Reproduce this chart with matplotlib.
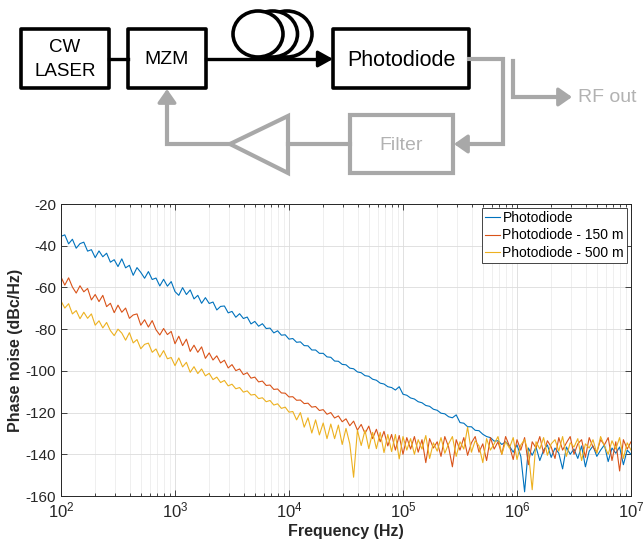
import numpy as np
import matplotlib
matplotlib.use("Agg")
import matplotlib.pyplot as plt
from matplotlib.patches import Rectangle, Ellipse, Polygon

plt.rcParams['font.family'] = ['Liberation Sans', 'DejaVu Sans']
plt.rcParams['axes.unicode_minus'] = False

# phase noise traces (30 points per decade, 1e2 .. 1e7 Hz)
photodiode = [
    -35.5, -34.8, -39.1, -36.9, -41.2, -39.0, -38.3, -42.6, -41.9, -45.7,
    -42.5, -45.3, -43.6, -47.9, -46.7, -50.0, -46.3, -50.6, -49.4, -54.2,
    -50.5, -52.8, -55.6, -52.4, -56.2, -55.5, -59.3, -56.1, -59.4, -57.2,
    -62.0, -63.8, -60.1, -63.4, -61.2, -65.5, -63.8, -67.6, -64.9, -67.7,
    -67.0, -70.8, -69.1, -68.9, -72.2, -71.5, -74.3, -72.6, -74.9, -74.2,
    -77.5, -76.3, -78.6, -77.4, -79.7, -79.5, -81.8, -80.8, -82.9, -82.7,
    -84.8, -84.5, -86.3, -86.1, -87.9, -88.0, -90.0, -90.0, -91.6, -91.6,
    -93.3, -93.5, -95.3, -95.4, -96.9, -97.1, -98.7, -99.0, -100.5, -100.9,
    -102.3, -102.6, -104.0, -104.5, -105.9, -106.3, -107.6, -108.0, -109.2, -107.6,
    -111.2, -111.7, -113.0, -113.5, -114.8, -115.3, -116.6, -117.0, -118.4, -118.9,
    -120.3, -120.6, -122.0, -122.5, -121.1, -124.8, -125.1, -126.8, -126.8, -128.5,
    -128.7, -130.4, -131.5, -132.0, -133.7, -133.5, -135.3, -134.0, -136.0, -139.0,
    -135.5, -141.0, -158.0, -137.0, -140.5, -136.5, -143.0, -138.0, -135.5, -141.5,
    -137.0, -139.5, -147.0, -136.5, -140.0, -137.5, -142.0, -136.0, -146.0, -138.5,
    -136.0, -141.0, -138.0, -135.5, -143.5, -137.0, -139.5, -136.5, -145.0, -138.0,
    -140.0]

pd_150m = [
    -55.0, -58.9, -55.4, -59.8, -62.7, -59.2, -62.1, -60.5, -66.0, -63.4,
    -66.8, -63.8, -69.2, -67.6, -72.1, -68.5, -71.9, -69.9, -74.8, -73.2,
    -72.7, -78.1, -75.5, -79.0, -75.9, -80.3, -82.8, -79.7, -82.6, -81.1,
    -87.0, -83.4, -87.9, -84.8, -90.7, -87.7, -91.1, -88.5, -94.0, -91.4,
    -94.8, -92.8, -96.2, -94.9, -98.6, -97.0, -99.9, -99.1, -101.8, -100.9,
    -103.5, -103.0, -105.3, -104.9, -107.0, -106.8, -108.9, -108.7, -110.6, -110.7,
    -112.5, -112.4, -114.1, -114.0, -115.7, -115.5, -117.4, -117.1, -119.0, -118.6,
    -120.8, -120.0, -122.6, -121.6, -124.4, -123.0, -126.3, -124.1, -128.4, -125.7,
    -130.0, -126.5, -132.5, -128.0, -134.0, -129.0, -136.0, -130.5, -138.0, -131.0,
    -140.0, -132.0, -137.5, -131.5, -139.0, -133.0, -144.0, -132.5, -137.0, -134.0,
    -141.0, -131.5, -136.5, -146.0, -133.0, -138.0, -132.0, -140.5, -134.5, -131.5,
    -139.0, -135.0, -143.0, -132.0, -137.5, -134.0, -140.0, -131.5, -136.0, -142.5,
    -133.0, -138.0, -132.0, -145.0, -134.0, -137.0, -131.5, -139.5, -133.5, -136.5,
    -142.0, -132.0, -138.0, -134.5, -131.5, -140.0, -135.0, -133.0, -141.5, -132.0,
    -136.5, -139.0, -133.0, -135.5, -132.0, -143.0, -134.0, -148.0, -133.0, -137.5,
    -134.0]

pd_500m = [
    -66.5, -69.9, -67.8, -72.7, -71.1, -75.0, -71.9, -74.8, -72.7, -78.1,
    -76.0, -79.4, -76.8, -80.7, -83.1, -80.0, -81.9, -85.3, -81.7, -86.6,
    -85.0, -89.4, -87.3, -86.7, -91.1, -89.5, -93.4, -90.3, -94.2, -93.6,
    -97.5, -93.8, -98.1, -95.9, -100.7, -98.0, -101.3, -99.1, -102.4, -101.2,
    -104.2, -103.0, -105.6, -104.6, -107.2, -106.4, -108.6, -108.0, -110.2, -109.6,
    -111.6, -111.3, -113.3, -112.9, -114.8, -114.2, -116.4, -115.8, -118.0, -117.4,
    -119.8, -119.5, -123.5, -120.0, -127.0, -122.5, -129.8, -123.5, -130.7, -125.0,
    -132.5, -125.5, -132.5, -126.0, -135.3, -127.6, -135.0, -151.0, -128.5, -135.8,
    -128.5, -137.3, -129.5, -137.3, -129.5, -139.2, -130.5, -138.7, -130.5, -142.2,
    -131.5, -138.0, -132.5, -140.0, -133.0, -137.5, -131.0, -142.0, -134.5, -138.5,
    -132.0, -139.5, -135.0, -131.5, -141.0, -134.0, -137.5, -127.0, -139.0, -133.5,
    -136.0, -144.0, -132.5, -138.0, -135.0, -131.5, -140.0, -134.0, -137.0, -132.0,
    -142.5, -135.5, -133.0, -139.0, -157.0, -134.0, -137.5, -132.0, -140.5, -135.0,
    -133.0, -138.5, -131.5, -141.0, -134.5, -136.5, -132.5, -143.0, -135.0, -137.0,
    -133.0, -139.5, -131.5, -136.0, -140.0, -133.5, -137.5, -132.0, -142.0, -134.5,
    -138.0]

freq = np.logspace(2, 7, len(photodiode))

labels = ['Photodiode', 'Photodiode - 150 m', 'Photodiode - 500 m']
colors = ['#0072BD', '#D95319', '#EDB120']
y_ticks = [-160, -140, -120, -100, -80, -60, -40, -20]

W, H = 643, 545
fig = plt.figure(figsize=(W / 100, H / 100), dpi=100)

# ---- block diagram (pixel coordinates) ----
d = fig.add_axes([0, 0, 1, 1])
d.set_xlim(0, W)
d.set_ylim(H, 0)
d.axis('off')

blk = 'black'
gry = '#a8a8a8'
txt_gry = '#b2b2b2'

for (x0, y0, x1, y1) in [(21, 29, 109, 88), (128, 29, 206, 88), (333, 29, 469, 88)]:
    d.add_patch(Rectangle((x0, y0), x1 - x0, y1 - y0, fill=False, ec=blk, lw=2.6,
                          joinstyle='round'))
d.text(65, 47, 'CW', ha='center', va='center', fontsize=13.5)
d.text(65, 72, 'LASER', ha='center', va='center', fontsize=13.5)
d.text(167, 60, 'MZM', ha='center', va='center', fontsize=14)
d.text(401, 60, 'Photodiode', ha='center', va='center', fontsize=15.5)

d.plot([109, 128], [59, 59], color=blk, lw=2.4)
d.plot([206, 322], [59, 59], color=blk, lw=2.4)
d.annotate('', xy=(333, 59), xytext=(318, 59),
           arrowprops=dict(arrowstyle='-|>,head_length=0.45,head_width=0.25',
                           color=blk, lw=2.2, mutation_scale=20, shrinkA=0, shrinkB=0))

# fibre coil
for cx in [287, 272.5, 258]:
    d.add_patch(Ellipse((cx, 34), 50, 46, fc='white', ec=blk, lw=2.6, zorder=3))

# feedback path
d.plot([469, 503, 503, 465], [59, 59, 144, 144], color=gry, lw=3, solid_joinstyle='miter')
d.annotate('', xy=(454, 144), xytext=(470, 144),
           arrowprops=dict(arrowstyle='-|>,head_length=0.4,head_width=0.28',
                           color=gry, lw=2.5, mutation_scale=20, shrinkA=0, shrinkB=0))
d.plot([513, 513, 560], [61, 97, 97], color=gry, lw=3, solid_joinstyle='miter')
d.annotate('', xy=(572, 97), xytext=(556, 97),
           arrowprops=dict(arrowstyle='-|>,head_length=0.4,head_width=0.28',
                           color=gry, lw=2.5, mutation_scale=20, shrinkA=0, shrinkB=0))
d.text(578, 98, 'RF out', ha='left', va='center', fontsize=14, color=txt_gry)

d.add_patch(Rectangle((350, 115), 103, 58, fill=False, ec=gry, lw=3))
d.text(401, 146, 'Filter', ha='center', va='center', fontsize=14, color=txt_gry)
d.plot([350, 288], [144, 144], color=gry, lw=3)
d.add_patch(Polygon([(230, 144), (288, 116), (288, 173)], closed=True, fill=False,
                    ec=gry, lw=3, joinstyle='miter'))
d.plot([230, 167, 167], [144, 144, 100], color=gry, lw=3, solid_joinstyle='miter')
d.annotate('', xy=(167, 89), xytext=(167, 104),
           arrowprops=dict(arrowstyle='-|>,head_length=0.4,head_width=0.28',
                           color=gry, lw=2.5, mutation_scale=20, shrinkA=0, shrinkB=0))

# ---- phase noise plot ----
ax = fig.add_axes([61 / W, 1 - 496 / H, 570 / W, 292 / H])
for vals, lab, c in zip([photodiode, pd_150m, pd_500m], labels, colors):
    ax.plot(freq, vals, color=c, lw=0.8, label=lab)

ax.set_xscale('log')
ax.set_xlim(1e2, 1e7)
ax.set_ylim(-160, -20)
ax.set_yticks(y_ticks)
ax.grid(True, which='major', color='#dcdcdc', lw=0.6)
ax.grid(True, which='minor', color='#ececec', lw=0.6)
ax.set_axisbelow(True)
ax.tick_params(which='both', direction='in', top=True, right=True, colors='#262626',
               labelsize=11, width=0.6)
ax.tick_params(axis='x', labelsize=12)
ax.tick_params(which='major', length=4)
ax.tick_params(which='minor', length=2.5)
for s in ax.spines.values():
    s.set_color('#262626')
    s.set_linewidth(0.7)
ax.set_xlabel('Frequency (Hz)', fontsize=11.5, fontweight='bold', color='#262626', labelpad=2)
ax.set_ylabel('Phase noise (dBc/Hz)', fontsize=11.5, fontweight='bold', color='#262626', labelpad=2)

leg = ax.legend(loc='upper right', fontsize=10, fancybox=False, framealpha=1,
                edgecolor='#262626', borderpad=0.2, handlelength=1.1, handletextpad=0.15,
                labelspacing=0.25, borderaxespad=0.3)
leg.get_frame().set_linewidth(0.6)

fig.savefig('out.png', dpi=100)
